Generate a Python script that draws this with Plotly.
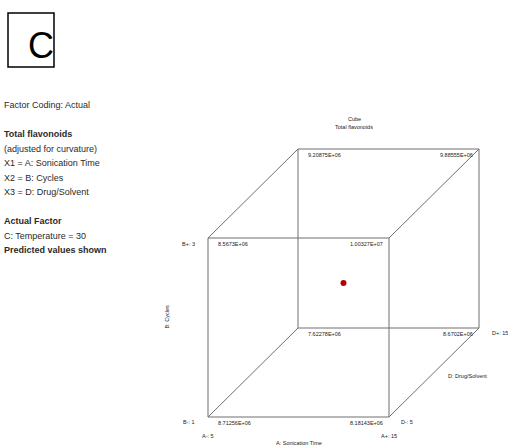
import plotly.graph_objects as go

# Factor levels (actual units)
a_levels = [5, 15]        # A: Sonication Time
b_levels = [1, 3]         # B: Cycles
d_levels = [5, 15]        # D: Drug/Solvent
center_point = (10, 2, 10)

# Predicted total flavonoids at each corner, keyed by (A, B, D)
corner_values = {
    (5, 1, 5): "8.71256E+06",
    (15, 1, 5): "8.18143E+06",
    (5, 3, 5): "8.5673E+06",
    (15, 3, 5): "1.00327E+07",
    (5, 1, 15): "7.62278E+06",
    (15, 1, 15): "8.6702E+06",
    (5, 3, 15): "9.20875E+06",
    (15, 3, 15): "9.88555E+06",
}

info_lines = [
    ("Factor Coding: Actual", False),
    ("", False),
    ("Total flavonoids", True),
    ("(adjusted for curvature)", False),
    ("X1 = A: Sonication Time", False),
    ("X2 = B: Cycles", False),
    ("X3 = D: Drug/Solvent", False),
    ("", False),
    ("Actual Factor", True),
    ("C: Temperature = 30", False),
    ("Predicted values shown", True),
]

W, H = 508, 446
FONT = "Liberation Sans, Arial, sans-serif"

# Oblique (cabinet-style) projection of the factor space onto the page
ORIGIN = (208, 417)
FRONT_W, FRONT_H = 181, 179
DEPTH = (90, -89)


def project(a, b, d):
    ua = (a - a_levels[0]) / (a_levels[1] - a_levels[0])
    ub = (b - b_levels[0]) / (b_levels[1] - b_levels[0])
    ud = (d - d_levels[0]) / (d_levels[1] - d_levels[0])
    x = ORIGIN[0] + ua * FRONT_W + ud * DEPTH[0]
    y = ORIGIN[1] - ub * FRONT_H + ud * DEPTH[1]
    return x, y


# Cube edges: pairs of corners differing in one factor
corners = [(a, b, d) for a in a_levels for b in b_levels for d in d_levels]
ex, ey = [], []
for i, p in enumerate(corners):
    for q in corners[i + 1:]:
        if sum(1 for u, v in zip(p, q) if u != v) == 1:
            x0, y0 = project(*p)
            x1, y1 = project(*q)
            ex += [x0, x1, None]
            ey += [y0, y1, None]

fig = go.Figure()
fig.add_trace(go.Scatter(x=ex, y=ey, mode="lines",
                         line=dict(color="#6e6e6e", width=1),
                         hoverinfo="skip", showlegend=False))
cx, cy = project(*center_point)
fig.add_trace(go.Scatter(x=[cx], y=[cy], mode="markers",
                         marker=dict(color="#b40000", size=6),
                         hoverinfo="skip", showlegend=False))

ann = []
small = dict(family=FONT, size=5.5, color="#222")

# Corner value labels, placed just inside the face below each vertex
for (a, b, d), txt in corner_values.items():
    x, y = project(a, b, d)
    if a == a_levels[0]:
        ann.append(dict(x=x + 8, y=y + 6, text=txt, xanchor="left", yanchor="middle",
                        showarrow=False, font=small))
    else:
        ann.append(dict(x=x - 4, y=y + 6, text=txt, xanchor="right", yanchor="middle",
                        showarrow=False, font=small))

# Factor level labels
x, y = project(a_levels[0], b_levels[1], d_levels[0])
ann.append(dict(x=x - 11, y=y + 6, text=f"B+: {b_levels[1]}", xanchor="right",
                yanchor="middle", showarrow=False, font=small))
x, y = project(a_levels[0], b_levels[0], d_levels[0])
ann.append(dict(x=x - 11, y=y + 5, text=f"B-: {b_levels[0]}", xanchor="right",
                yanchor="middle", showarrow=False, font=small))
ann.append(dict(x=x, y=y + 19, text=f"A-: {a_levels[0]}", xanchor="center",
                yanchor="middle", showarrow=False, font=small))
x, y = project(a_levels[1], b_levels[0], d_levels[0])
ann.append(dict(x=x, y=y + 19, text=f"A+: {a_levels[1]}", xanchor="center",
                yanchor="middle", showarrow=False, font=small))
ann.append(dict(x=x + 10, y=y + 5, text=f"D-: {d_levels[0]}", xanchor="left",
                yanchor="middle", showarrow=False, font=small))
x, y = project(a_levels[1], b_levels[0], d_levels[1])
ann.append(dict(x=x + 11, y=y + 5, text=f"D+: {d_levels[1]}", xanchor="left",
                yanchor="middle", showarrow=False, font=small))

# Axis titles
x, y = project(sum(a_levels) / 2, b_levels[0], d_levels[0])
ann.append(dict(x=x, y=y + 26, text="A: Sonication Time", xanchor="center",
                yanchor="middle", showarrow=False, font=small))
x, y = project(a_levels[1], b_levels[0], sum(d_levels) / 2)
ann.append(dict(x=x + 33, y=y + 3, text="D: Drug/Solvent", xanchor="center",
                yanchor="middle", showarrow=False, font=small))
x, y = project(a_levels[0], sum(b_levels) / 2, d_levels[0])
ann.append(dict(x=x - 42, y=y - 10, text="B: Cycles", textangle=-90, xanchor="center",
                yanchor="middle", showarrow=False, font=small))

# Chart title
ann.append(dict(x=354, y=119, text="Cube", xanchor="center", yanchor="middle",
                showarrow=False, font=small))
ann.append(dict(x=354, y=127, text="Total flavonoids", xanchor="center",
                yanchor="middle", showarrow=False, font=small))

# Left-hand legend block
y0, step = 105, 14.5
for i, (txt, bold) in enumerate(info_lines):
    if not txt:
        continue
    ann.append(dict(x=2, y=y0 + i * step, text=f"<b>{txt}</b>" if bold else txt,
                    xanchor="left", yanchor="middle", showarrow=False,
                    font=dict(family=FONT, size=9, color="#2a2a2a")))

# Panel letter
ann.append(dict(x=41, y=45, text="C", xanchor="center", yanchor="middle",
                showarrow=False, font=dict(family=FONT, size=36, color="#000")))

fig.update_layout(
    width=W, height=H,
    margin=dict(l=0, r=0, t=0, b=0),
    paper_bgcolor="white", plot_bgcolor="white",
    xaxis=dict(range=[0, W], visible=False, fixedrange=True),
    yaxis=dict(range=[H, 0], visible=False, fixedrange=True),
    annotations=ann,
    shapes=[dict(type="rect", xref="x", yref="y", x0=8, y0=13, x1=54, y1=67,
                 line=dict(color="#000", width=1.5))],
)

fig.write_html("out.html")
